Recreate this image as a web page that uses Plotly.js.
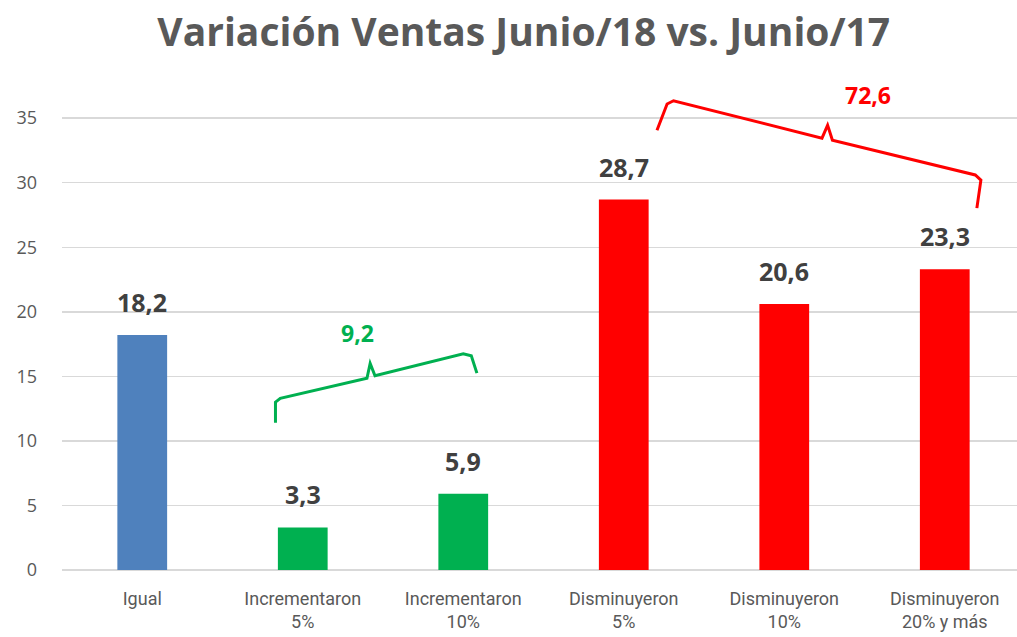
<!DOCTYPE html>
<html><head><meta charset="utf-8">
<script src="https://cdn.plot.ly/plotly-3.0.1.min.js"></script>
<style>body{margin:0;background:#fff}#c{width:1017px;height:637px}</style>
</head><body><div id="c"></div>
<script>
const categories = ["Igual", "Incrementaron<br>5%", "Incrementaron<br>10%", "Disminuyeron<br>5%", "Disminuyeron<br>10%", "Disminuyeron<br>20% y más"];
const values = [18.2, 3.3, 5.9, 28.7, 20.6, 23.3];
const barColors = ["#4F81BD", "#00B050", "#00B050", "#FF0000", "#FF0000", "#FF0000"];
const yTicks = [0, 5, 10, 15, 20, 25, 30, 35];
const groupIncrement = [1, 2];
const groupDecrease = [3, 4, 5];

const sumOf = idx => idx.reduce((s, i) => s + values[i], 0);
const fmt = v => v.toFixed(1).replace('.', ',');

const xs = categories.map((_, i) => i);

function bracket(pts) {
  return 'M ' + pts.map(p => p[0] + ',' + p[1]).join(' L ');
}

const greenPath = bracket([[0.83, 11.4], [0.83, 13.0], [0.86, 13.3], [1.40, 14.85], [1.42, 16.0], [1.45, 15.05], [2.00, 16.75], [2.05, 16.6], [2.085, 15.25]]);
const redPath = bracket([[3.207, 34.07], [3.27, 36.1], [3.31, 36.35], [4.235, 33.45], [4.27, 34.46], [4.30, 33.30], [5.19, 30.6], [5.225, 30.2], [5.20, 28.03]]);

const trace = {
  type: 'bar',
  x: xs,
  y: values,
  marker: {color: barColors},
  width: 0.31,
  hoverinfo: 'skip'
};

const labelFont = {family: 'Open Sans, Lato, sans-serif', size: 25, color: '#404040'};
const valueLabels = values.map((v, i) => ({
  xref: 'x', yref: 'y', x: xs[i], y: v, yanchor: 'bottom', yshift: 14,
  text: '<b>' + fmt(v) + '</b>', showarrow: false, font: labelFont
}));

const layout = {
  width: 1017, height: 637,
  margin: {l: 62, r: 0, t: 73, b: 67},
  paper_bgcolor: '#fff', plot_bgcolor: '#fff',
  showlegend: false,
  title: {text: '<b>Variación Ventas Junio/18 vs. Junio/17</b>', x: 0.515, xanchor: 'center', y: 0.95, yanchor: 'middle',
          font: {family: 'Open Sans, Lato, sans-serif', size: 39, color: '#595959'}},
  xaxis: {
    range: [-0.5, 5.45], tickmode: 'array', tickvals: xs, ticktext: categories,
    showgrid: false, zeroline: false, showline: false, ticks: '', ticklabelstandoff: 16,
    tickfont: {family: 'Liberation Sans Narrow, Roboto, sans-serif', size: 18, color: '#595959'}
  },
  yaxis: {
    range: [0, 38.5], tickmode: 'array', tickvals: yTicks, ticktext: yTicks.map(String),
    showgrid: true, gridcolor: '#D9D9D9', gridwidth: 1.5, zeroline: true, zerolinecolor: '#D9D9D9', zerolinewidth: 1.5,
    showline: false, ticks: '', ticklabelstandoff: 24,
    tickfont: {family: 'Open Sans, Lato, sans-serif', size: 18, color: '#595959'}
  },
  shapes: [
    {type: 'path', xref: 'x', yref: 'y', path: greenPath, line: {color: '#00B050', width: 3}},
    {type: 'path', xref: 'x', yref: 'y', path: redPath, line: {color: '#FF0000', width: 3}}
  ],
  annotations: valueLabels.concat([
    {xref: 'x', yref: 'y', x: 1.344, y: 18.35, text: '<b>' + fmt(sumOf(groupIncrement)) + '</b>', showarrow: false,
     font: {family: 'Open Sans, Lato, sans-serif', size: 23, color: '#00B050'}},
    {xref: 'x', yref: 'y', x: 4.52, y: 36.78, text: '<b>' + fmt(sumOf(groupDecrease)) + '</b>', showarrow: false,
     font: {family: 'Open Sans, Lato, sans-serif', size: 23, color: '#FF0000'}}
  ])
};

Plotly.newPlot('c', [trace], layout, {displayModeBar: false, staticPlot: true});
</script></body></html>
